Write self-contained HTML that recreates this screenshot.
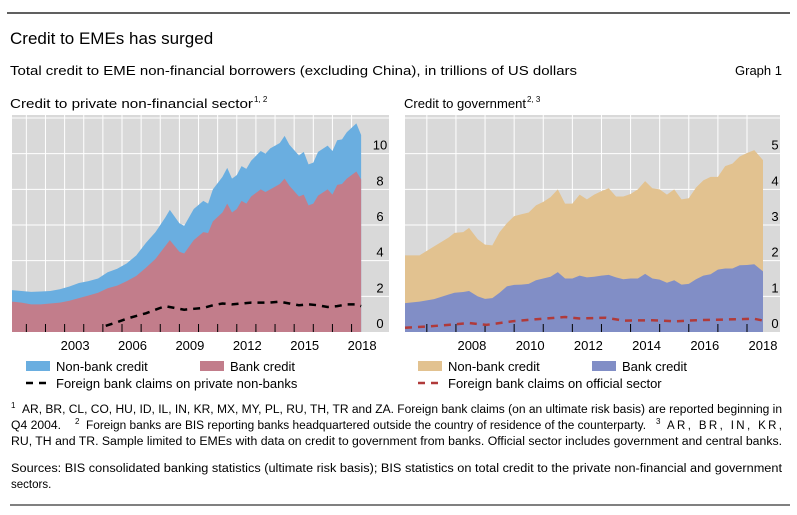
<!DOCTYPE html>
<html><head><meta charset="utf-8"><style>
body{margin:0;background:#fff;}
svg{display:block;font-family:"Liberation Sans",sans-serif;}
</style></head><body>
<svg id="page" width="797" height="515" viewBox="0 0 797 515">
<line x1="7" y1="13" x2="790" y2="13" stroke="#000" stroke-width="1.2"/>
<text x="10" y="44" font-size="17">Credit to EMEs has surged</text>
<text x="10" y="75" font-size="13" textLength="567" lengthAdjust="spacingAndGlyphs">Total credit to EME non-financial borrowers (excluding China), in trillions of US dollars</text>
<text x="782" y="75" font-size="13" text-anchor="end">Graph 1</text>
<text x="10" y="108" font-size="13" textLength="243" lengthAdjust="spacingAndGlyphs">Credit to private non-financial sector</text>
<text x="254" y="102" font-size="8">1, 2</text>
<text x="404" y="108" font-size="13" textLength="122" lengthAdjust="spacingAndGlyphs">Credit to government</text>
<text x="527" y="102" font-size="8">2, 3</text>
<g id="left"></g>
<g id="right"></g>
<!-- legends -->
<rect x="26" y="361" width="24" height="10" fill="#6aaee0"/>
<text x="56" y="371" font-size="13">Non-bank credit</text>
<rect x="200" y="361" width="24" height="10" fill="#c27d8b"/>
<text x="230" y="371" font-size="13">Bank credit</text>
<line x1="26" y1="383" x2="50" y2="383" stroke="#000" stroke-width="2.5" stroke-dasharray="7,6"/>
<text x="56" y="388" font-size="13">Foreign bank claims on private non-banks</text>
<rect x="418" y="361" width="24" height="10" fill="#e2c290"/>
<text x="448" y="371" font-size="13">Non-bank credit</text>
<rect x="592" y="361" width="24" height="10" fill="#818ec6"/>
<text x="622" y="371" font-size="13">Bank credit</text>
<line x1="418" y1="383" x2="442" y2="383" stroke="#b03a3a" stroke-width="2.5" stroke-dasharray="7,6"/>
<text x="448" y="388" font-size="13">Foreign bank claims on official sector</text>
<!-- footnotes -->
<g font-size="11.5">
<text x="11" y="408" font-size="8">1</text>
<text x="22" y="413" textLength="760" lengthAdjust="spacingAndGlyphs">AR, BR, CL, CO, HU, ID, IL, IN, KR, MX, MY, PL, RU, TH, TR and ZA. Foreign bank claims (on an ultimate risk basis) are reported beginning in</text>
<text x="11" y="429" textLength="50" lengthAdjust="spacingAndGlyphs">Q4 2004.</text>
<text x="75" y="424" font-size="8">2</text>
<text x="86" y="429" textLength="560" lengthAdjust="spacingAndGlyphs">Foreign banks are BIS reporting banks headquartered outside the country of residence of the counterparty.</text>
<text x="656" y="424" font-size="8">3</text>
<text x="782" y="429" text-anchor="end" textLength="115" lengthAdjust="spacing">AR, BR, IN, KR,</text>
<text x="11" y="445" textLength="771" lengthAdjust="spacingAndGlyphs">RU, TH and TR. Sample limited to EMEs with data on credit to government from banks. Official sector includes government and central banks.</text>
<text x="11" y="472" textLength="771" lengthAdjust="spacingAndGlyphs">Sources: BIS consolidated banking statistics (ultimate risk basis); BIS statistics on total credit to the private non-financial and government</text>
<text x="11" y="488">sectors.</text>
</g>
<line x1="10" y1="505" x2="790" y2="505" stroke="#000" stroke-width="1"/>
</svg>
<script>
// ---- Left chart data ----
const leftDates=[2000,2000.5,2001,2001.5,2002,2002.5,2003,2003.5,2004,2004.5,2005,2005.5,2006,2006.5,2007,2007.5,2008,2008.25,2008.75,2009,2009.5,2010,2010.25,2010.5,2011,2011.25,2011.5,2011.75,2012,2012.25,2012.5,2013,2013.25,2013.5,2014,2014.25,2014.5,2015,2015.25,2015.5,2015.75,2016,2016.5,2016.75,2017,2017.25,2017.5,2018,2018.25];
const leftTotal=[2.35,2.3,2.25,2.27,2.3,2.4,2.55,2.75,2.85,3.0,3.35,3.55,3.85,4.3,5.0,5.6,6.4,6.85,6.1,5.95,6.9,7.35,7.2,8.0,8.7,9.2,8.6,8.8,9.3,9.15,9.6,10.15,10.0,10.3,10.6,11.0,10.5,9.9,10.1,9.4,9.5,10.1,10.45,10.15,10.75,10.8,11.2,11.7,11.05];
const leftBank=[1.7,1.65,1.55,1.55,1.6,1.65,1.75,1.9,2.05,2.2,2.45,2.6,2.85,3.15,3.6,4.1,4.8,5.15,4.5,4.4,5.15,5.6,5.55,6.2,6.7,7.2,6.7,6.9,7.35,7.2,7.6,8.0,7.85,8.0,8.3,8.6,8.2,7.6,7.7,7.1,7.2,7.65,8.0,7.7,8.25,8.3,8.6,9.0,8.55];
const leftForeignDates=[2004.9,2005.5,2006,2006.5,2007,2007.5,2008,2008.5,2009,2009.5,2010,2010.5,2011,2011.5,2012,2012.5,2013,2013.5,2014,2014.5,2015,2015.5,2016,2016.5,2017,2017.5,2018,2018.25];
const leftForeign=[0.35,0.55,0.75,0.9,1.05,1.25,1.45,1.35,1.25,1.3,1.35,1.5,1.6,1.55,1.6,1.65,1.65,1.65,1.7,1.6,1.5,1.55,1.5,1.4,1.45,1.55,1.55,1.45];
const leftYTicks=[0,2,4,6,8,10];
const leftXLabels=[2003,2006,2009,2012,2015,2018];
// ---- Right chart data ----
const rightDates=[2006,2006.5,2007,2007.5,2007.7,2008,2008.2,2008.5,2008.75,2009,2009.25,2009.5,2009.75,2010,2010.25,2010.5,2010.75,2011,2011.25,2011.5,2011.75,2012,2012.25,2012.5,2012.75,2013,2013.25,2013.5,2013.75,2014,2014.25,2014.5,2014.75,2015,2015.25,2015.5,2015.75,2016,2016.25,2016.5,2016.75,2017,2017.25,2017.5,2017.75,2018,2018.3];
const rightTotal=[2.15,2.15,2.4,2.65,2.78,2.8,2.92,2.6,2.45,2.43,2.8,3.05,3.25,3.3,3.35,3.55,3.65,3.78,4.0,3.6,3.6,3.85,3.72,3.85,3.95,4.03,3.8,3.8,3.87,4.0,4.23,4.03,4.0,3.85,4.0,3.72,3.75,4.05,4.25,4.35,4.35,4.65,4.72,4.92,5.02,5.1,4.82];
const rightBank=[0.81,0.85,0.92,1.05,1.1,1.12,1.15,1.0,0.93,0.95,1.1,1.28,1.32,1.33,1.35,1.45,1.5,1.55,1.68,1.5,1.5,1.58,1.53,1.55,1.58,1.6,1.53,1.48,1.5,1.5,1.63,1.5,1.47,1.38,1.45,1.33,1.35,1.48,1.58,1.62,1.75,1.78,1.78,1.87,1.88,1.9,1.7];
const rightForeignDates=[2006,2006.7,2007.5,2008.2,2008.8,2009.7,2010.4,2011.5,2012,2012.9,2013.5,2014.5,2015.3,2016,2017,2018,2018.3];
const rightForeign=[0.12,0.15,0.2,0.25,0.2,0.3,0.35,0.42,0.38,0.4,0.32,0.33,0.3,0.33,0.35,0.37,0.32];
const rightYTicks=[0,1,2,3,4,5];
const rightXLabels=[2008,2010,2012,2014,2016,2018];

const NS='http://www.w3.org/2000/svg';
function mk(parent,tag,attrs){const e=document.createElementNS(NS,tag);for(const k in attrs)e.setAttribute(k,attrs[k]);parent.appendChild(e);return e;}

function drawChart(g,cfg){
  const {x0,x1,bgRight,yTop,yBot,t0,t1,vMax,dates,total,bank,fDates,fVals,yTicks,xLabels,cTop,cBank,cLine,labelX,grid}=cfg;
  const xs=t=>x0+(t-t0)/(t1-t0)*(x1-x0);
  const ys=v=>yBot-v/vMax*(yBot-yTop);
  const bg=mk(g,'rect',{x:x0,y:yTop-3,width:bgRight-x0,height:yBot-yTop+3,fill:'#d9d9d9'});
  
  
  for(let v=grid;v<=vMax;v+=grid){const l=mk(g,'line',{x1:x0,x2:bgRight,y1:ys(v),y2:ys(v),stroke:'#fff','stroke-width':1});
    
    }
  for(let y=Math.ceil(t0);y<=t1;y++){const t=y+0.75;if(t>t1)continue;const l=mk(g,'line',{x1:xs(t),x2:xs(t),y1:yTop-3,y2:yBot,stroke:'#fff','stroke-width':1});
    
    }
  let top='M'+xs(dates[0])+','+yBot;dates.forEach((d,i)=>top+=' L'+xs(d)+','+ys(total[i]));top+=' L'+xs(dates[dates.length-1])+','+yBot+'Z';
  const a1=mk(g,'path',{d:top,fill:cTop});
  
  
  let bk='M'+xs(dates[0])+','+yBot;dates.forEach((d,i)=>bk+=' L'+xs(d)+','+ys(bank[i]));bk+=' L'+xs(dates[dates.length-1])+','+yBot+'Z';
  const a2=mk(g,'path',{d:bk,fill:cBank});
  
  
  for(let y=Math.ceil(t0);y<=t1;y++){const t=y+0.75;if(t>t1)continue;const l=mk(g,'line',{x1:xs(t),x2:xs(t),y1:yBot-8,y2:yBot,stroke:'#000','stroke-width':1});
    
    }
  const ln=mk(g,'polyline',{points:fDates.map((d,i)=>xs(d)+','+ys(fVals[i])).join(' '),fill:'none',stroke:cLine,'stroke-width':2.5,'stroke-dasharray':'7,6'});
  
  
  yTicks.forEach(v=>{const t=mk(g,'text',{x:labelX,y:ys(v)-4,'font-size':13,'text-anchor':'middle'});t.textContent=v;
    
    });
  xLabels.forEach(y=>{const t=mk(g,'text',{x:xs(y+0.3),y:yBot+18,'font-size':13,'text-anchor':'middle'});t.textContent=y;
    
    });
}
drawChart(document.getElementById('left'),{x0:12,x1:364,bgRight:389,yTop:118,yBot:332,t0:2000,t1:2018.4,vMax:12,dates:leftDates,total:leftTotal,bank:leftBank,fDates:leftForeignDates,fVals:leftForeign,yTicks:leftYTicks,xLabels:leftXLabels,cTop:'#6aaee0',cBank:'#c27d8b',cLine:'#000',labelX:380,grid:2});
drawChart(document.getElementById('right'),{x0:405,x1:763,bgRight:780,yTop:118,yBot:332,t0:2006,t1:2018.3,vMax:6,dates:rightDates,total:rightTotal,bank:rightBank,fDates:rightForeignDates,fVals:rightForeign,yTicks:rightYTicks,xLabels:rightXLabels,cTop:'#e2c290',cBank:'#818ec6',cLine:'#b03a3a',labelX:775,grid:1});
</script>
</body></html>
